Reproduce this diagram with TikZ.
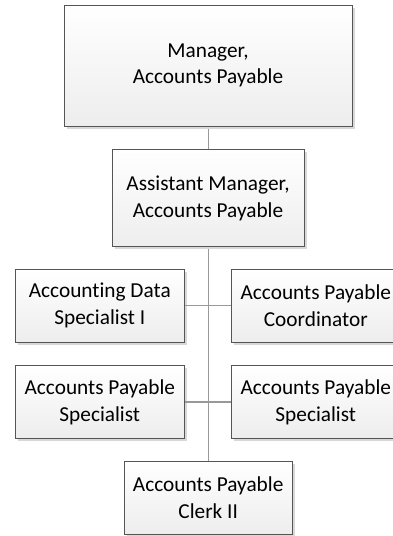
\documentclass[tikz,border=0pt]{standalone}
\usepackage{fontspec}
\setmainfont{Carlito}[Ligatures=CommonOff]
\usetikzlibrary{shadows}
\definecolor{boxborder}{HTML}{555555}
\definecolor{linkgray}{HTML}{999999}
\definecolor{shadowgray}{HTML}{D8D8D8}
\tikzset{
  orgbox/.style={draw=boxborder, line width=1pt, rectangle, top color=white, bottom color=gray!14,
    align=center, inner sep=0pt, font=\fontsize{21.3}{26.7}\selectfont,
    drop shadow={shadow xshift=2.5pt, shadow yshift=-2.5pt, fill=shadowgray, opacity=1}},
  link/.style={draw=linkgray, line width=1.2pt}
}
\begin{document}
\begin{tikzpicture}[x=1pt,y=1pt]
\useasboundingbox (0,0) rectangle (392,-536);
\draw[link] (208.3,-126) coordinate (mgrbot) -- (208.3,-150);
\draw[link] (208.3,-246.7) coordinate (astbot) -- (208.3,-461.3) coordinate (clktop);
\node[orgbox, minimum width=288pt, minimum height=121pt] (mgr) at (208,-65.5) {Manager,\\Accounts Payable};
\node[orgbox, minimum width=192pt, minimum height=97pt] (ast) at (208,-198.2) {Assistant Manager,\\Accounts Payable};
\node[orgbox, minimum width=169pt, minimum height=72.7pt] (l1) at (99.8,-305.7) {Accounting Data\\Specialist I};
\node[orgbox, minimum width=169pt, minimum height=72.7pt] (r1) at (315.8,-305.7) {Accounts Payable\\Coordinator};
\node[orgbox, minimum width=169pt, minimum height=72.7pt] (l2) at (99.8,-402) {Accounts Payable\\Specialist};
\node[orgbox, minimum width=169pt, minimum height=72.7pt] (r2) at (315.8,-402) {Accounts Payable\\Specialist};
\node[orgbox, minimum width=168.3pt, minimum height=72.7pt] (clk) at (208.2,-497.7) {Accounts Payable\\Clerk II};
\draw[link] (l1.east) -- (r1.west);
\draw[link] (l2.east) -- (r2.west);
\end{tikzpicture}
\end{document}
